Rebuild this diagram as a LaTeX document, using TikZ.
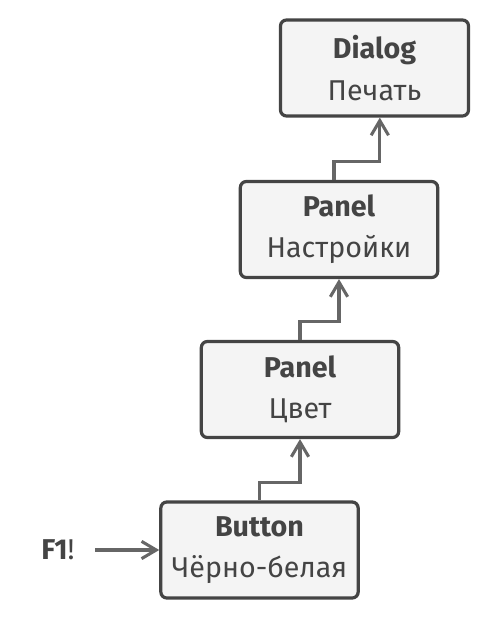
\documentclass[tikz,border=0pt]{standalone}
\usepackage{fontspec}
\setmainfont{Fira Sans}
\usetikzlibrary{arrows.meta}

\definecolor{boxline}{HTML}{444444}
\definecolor{boxfill}{HTML}{F4F4F4}
\definecolor{linkgray}{HTML}{666666}

\begin{document}
\begin{tikzpicture}[x=0.75pt, y=-0.75pt,
    box/.style={draw=boxline, fill=boxfill, line width=2.4pt, rounded corners=4.5pt,
        minimum width=148pt, minimum height=72pt, align=center, inner sep=0pt,
        text=boxline, font=\fontsize{21.5}{31}\selectfont},
    link/.style={draw=linkgray, line width=2.3pt,
        -{Straight Barb[length=11pt, width=13pt, line width=2.3pt]}}]
    \useasboundingbox (0, 0) rectangle (500, 620);

    \node[box, minimum width=141pt] (dialog) at (374.5, 68) {\textbf{Dialog}\\Печать};
    \node[box] (nastr) at (339, 229.5) {\textbf{Panel}\\Настройки};
    \node[box] (cvet) at (300, 389.5) {\textbf{Panel}\\Цвет};
    \node[box] (btn) at (259.5, 550) {\textbf{Button}\\Чёрно-белая};

    \node[text=boxline, font=\fontsize{21.5}{31}\selectfont] (f1) at (58, 550) {\textbf{F1}!};

    % steps up the chain
    \draw[link] (btn.north) -- ++(0, -18) -| (cvet.south);
    \draw[link] (cvet.north) -- ++(0, -18) -| (nastr.south);
    \draw[link] ([xshift=-3.75pt]nastr.north) -- ++(0, -18) -| ([xshift=4pt]dialog.south);

    \draw[link, shorten <=12pt] (f1.east) -- (btn.west);
\end{tikzpicture}
\end{document}
